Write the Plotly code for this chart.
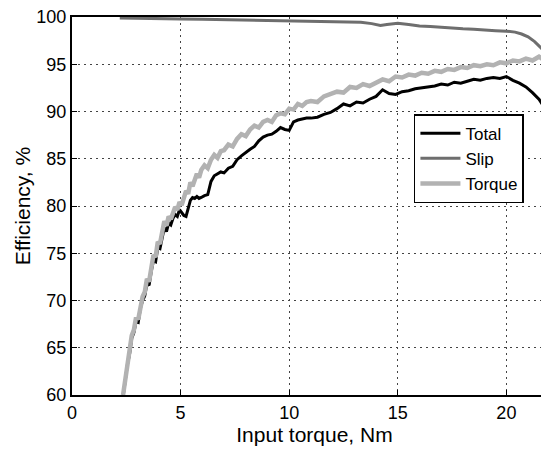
import plotly.graph_objects as go

# Input torque (Nm) for the Total / Torque efficiency curves
torque_x = [2.35, 2.45, 2.55, 2.65, 2.75, 2.85, 2.95, 3.05, 3.15, 3.25, 3.35, 3.45, 3.55, 3.65, 3.75,
            3.85, 3.95, 4.05, 4.15, 4.25, 4.35, 4.45, 4.55, 4.65, 4.75, 4.85, 4.95, 5.05, 5.15, 5.25,
            5.35, 5.45, 5.55, 5.65, 5.75, 5.85, 5.95, 6.1, 6.25, 6.4, 6.55, 6.7, 6.85, 7.0, 7.2,
            7.4, 7.6, 7.8, 8.0, 8.2, 8.4, 8.6, 8.8, 9.0, 9.2, 9.4, 9.6, 9.8, 10.0, 10.2,
            10.4, 10.6, 10.8, 11.0, 11.3, 11.6, 11.9, 12.2, 12.5, 12.8, 13.1, 13.4, 13.7, 14.0, 14.3,
            14.6, 14.9, 15.2, 15.5, 15.8, 16.1, 16.4, 16.7, 17.0, 17.3, 17.6, 17.9, 18.2, 18.5, 18.8,
            19.1, 19.4, 19.7, 20.0, 20.3, 20.6, 20.9, 21.2, 21.5, 21.7, 21.9]

total_eff = [59.8, 61.5, 63.2, 64.3, 66.0, 66.6, 67.8, 67.7, 69.2, 70.0, 70.5, 71.8, 71.6, 73.1, 74.2,
             74.1, 75.6, 75.5, 76.7, 77.7, 77.3, 78.2, 78.0, 78.7, 79.1, 78.9, 79.6, 79.3, 79.0, 78.9,
             79.8, 80.6, 80.9, 80.8, 81.0, 80.8, 80.9, 81.1, 81.2, 82.6, 83.2, 83.4, 83.6, 83.5, 84.0,
             84.2, 84.9, 85.3, 85.7, 86.0, 86.3, 86.9, 87.3, 87.5, 87.6, 87.9, 88.3, 88.1, 88.0, 88.9,
             89.1, 89.2, 89.3, 89.3, 89.4, 89.7, 89.9, 90.3, 90.8, 90.6, 91.0, 90.9, 91.3, 91.6, 92.3,
             91.9, 91.8, 92.1, 92.2, 92.4, 92.5, 92.6, 92.7, 92.9, 92.8, 93.1, 93.0, 93.2, 93.4, 93.3,
             93.5, 93.6, 93.5, 93.7, 93.3, 93.0, 92.6, 92.0, 91.3, 90.6, 90.3]

torque_eff = [60.0, 61.8, 63.5, 64.6, 66.3, 66.9, 68.2, 68.0, 69.6, 70.4, 70.9, 72.3, 72.0, 73.6, 74.8,
              74.6, 76.2, 76.0, 77.3, 78.4, 77.9, 78.9, 78.6, 79.4, 79.9, 79.6, 80.4, 80.1, 80.9, 81.6,
              81.3, 82.5, 82.1, 82.9, 83.4, 83.0, 83.8, 84.3, 84.0, 84.9, 85.4, 85.1, 85.8, 85.9, 86.5,
              86.3, 87.1, 87.6, 87.4, 88.1, 88.5, 88.3, 88.9, 89.1, 88.9, 89.6, 89.8, 89.7, 90.3, 90.2,
              90.8, 90.6, 91.0, 91.1, 91.0, 91.6, 91.8, 92.1, 92.0, 92.6, 92.5, 92.9, 92.7, 93.1, 93.4,
              93.2, 93.7, 93.6, 93.9, 93.8, 94.1, 94.0, 94.3, 94.2, 94.5, 94.4, 94.7, 94.6, 94.9, 94.8,
              95.0, 94.9, 95.2, 95.1, 95.4, 95.3, 95.6, 95.4, 95.8, 95.5, 95.6]

# Slip efficiency
slip_x = [2.2, 3.0, 4.0, 5.0, 6.0, 7.0, 8.0, 9.0, 10.0, 11.0, 12.0, 12.8, 13.3, 13.8, 14.2, 14.5,
          15.0, 15.5, 16.0, 16.5, 17.0, 17.5, 18.0, 18.5, 19.0, 19.5, 20.0, 20.4, 20.7, 21.0, 21.3,
          21.5, 21.7, 21.9]
slip_eff = [99.9, 99.85, 99.8, 99.8, 99.75, 99.7, 99.7, 99.65, 99.6, 99.55, 99.5, 99.4, 99.45, 99.3,
            99.1, 99.2, 99.35, 99.2, 99.05, 99.0, 98.9, 98.8, 98.75, 98.7, 98.6, 98.55, 98.5, 98.4,
            98.2, 97.9, 97.4, 96.9, 96.5, 95.8]

fig = go.Figure()
fig.add_trace(go.Scatter(x=torque_x, y=total_eff, mode='lines', name='Total',
                         line=dict(color='black', width=3)))
fig.add_trace(go.Scatter(x=slip_x, y=slip_eff, mode='lines', name='Slip',
                         line=dict(color='#6e6e6e', width=3)))
fig.add_trace(go.Scatter(x=torque_x, y=torque_eff, mode='lines', name='Torque',
                         line=dict(color='#b2b2b2', width=4.5)))

# matlab-ish axes: boxed, dotted grid, inside ticks
axis_style = dict(showline=True, linecolor='black', linewidth=2, mirror=True,
                  showgrid=True, gridcolor='#444', gridwidth=1, griddash='2px,4px',
                  ticks='inside', ticklen=5, tickcolor='black', zeroline=False,
                  automargin=False, ticklabeloverflow='allow',
                  tickfont=dict(size=18, color='black'))

# right edge of the plot is cut off by the window, so the range runs past the data
fig.update_xaxes(range=[0, 22.33], tickvals=[0, 5, 10, 15, 20],
                 title=dict(text='Input torque, Nm', font=dict(size=21, color='black'), standoff=2),
                 **axis_style)
fig.update_yaxes(range=[60, 100], tickvals=[60, 65, 70, 75, 80, 85, 90, 95, 100],
                 title=dict(text='Efficiency, %', font=dict(size=21, color='black'), standoff=0),
                 **axis_style)

fig.update_layout(
    width=549, height=450,
    margin=dict(l=64, r=0, t=9, b=63),
    plot_bgcolor='white', paper_bgcolor='white',
    font=dict(family='Liberation Sans, Arial, sans-serif', color='black'),
    legend=dict(x=0.705, y=0.743, xanchor='left', yanchor='top',
                bgcolor='white', bordercolor='black', borderwidth=1.5,
                font=dict(size=17), tracegroupgap=0, itemwidth=40),
    showlegend=True,
)

fig.write_html("out.html")
